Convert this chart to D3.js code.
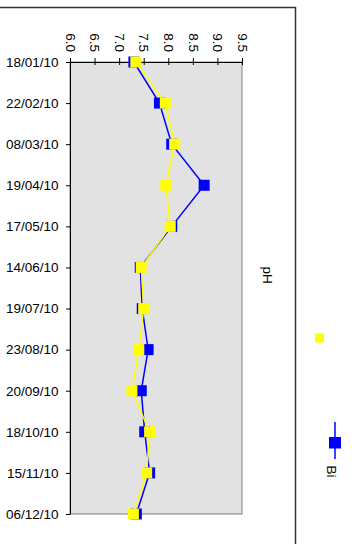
<!DOCTYPE html>
<meta charset="utf-8">
<body style="margin:0;background:#fff">
<script src="https://d3js.org/d3.v7.min.js"></script>
<script>
// data
var dates = ["18/01/10", "22/02/10", "08/03/10", "19/04/10", "17/05/10", "14/06/10",
             "19/07/10", "23/08/10", "20/09/10", "18/10/10", "15/11/10", "06/12/10"];
var bi     = [7.30, 7.82, 8.07, 8.73, 8.07, 7.43, 7.47, 7.59, 7.45, 7.52, 7.62, 7.35];
var second = [7.34, 7.94, 8.13, 7.95, 8.04, 7.45, 7.50, 7.40, 7.26, 7.62, 7.56, 7.29];
var phTicks = [6.0, 6.5, 7.0, 7.5, 8.0, 8.5, 9.0, 9.5];

var W = 352, H = 544;
var plotL = 70, plotR = 242, plotT = 62, plotB = 514;
var font = "Liberation Sans, Arial, sans-serif";

var svg = d3.select("body").append("svg")
    .attr("width", W).attr("height", H)
    .style("font-family", font);

// outer frame (top + right edge visible)
svg.append("path")
    .attr("d", "M0,7.5H295.5V544")
    .attr("fill", "none").attr("stroke", "#333").attr("stroke-width", 1.5);

var x = d3.scaleLinear().domain([6, 9.5]).range([plotL, plotR]);
var y = d3.scalePoint().domain(dates).range([plotT, plotB]);

// plot area
svg.append("rect")
    .attr("x", plotL).attr("y", plotT)
    .attr("width", plotR - plotL).attr("height", plotB - plotT)
    .attr("fill", "#e2e2e2").attr("stroke", "#808080").attr("stroke-width", 1);

// pH axis on top, labels rotated
var xa = svg.append("g").attr("transform", "translate(0," + plotT + ")")
    .call(d3.axisTop(x).tickValues(phTicks).tickFormat(d3.format(".1f")).tickSize(4).tickSizeOuter(0));
xa.selectAll(".tick line").attr("y2", 3).attr("y1", -4);
xa.select(".domain").attr("stroke", "#000");
xa.selectAll("text")
    .attr("transform", "rotate(90)")
    .attr("x", -10).attr("y", 0).attr("dy", "0.35em")
    .style("text-anchor", "end")
    .style("font-size", "13.5px").style("font-family", font).attr("fill", "#000");

// date axis on left
var ya = svg.append("g").attr("transform", "translate(" + plotL + ",0)")
    .call(d3.axisLeft(y).tickSize(4).tickSizeOuter(0));
ya.select(".domain").attr("stroke", "#000");
ya.selectAll("text")
    .attr("x", -11.5)
    .style("font-size", "13.5px").style("font-family", font).attr("fill", "#000");

// series
function drawSeries(vals, color) {
    var line = d3.line().x(function(d) { return x(d); }).y(function(d, i) { return y(dates[i]); });
    svg.append("path").datum(vals)
        .attr("d", line).attr("fill", "none")
        .attr("stroke", color).attr("stroke-width", 1.5);
    svg.selectAll(null).data(vals).enter().append("rect")
        .attr("x", function(d) { return x(d) - 5.5; })
        .attr("y", function(d, i) { return y(dates[i]) - 5.5; })
        .attr("width", 11).attr("height", 11)
        .attr("fill", color);
}
drawSeries(bi, "#0000ff");
drawSeries(second, "#ffff00");

// axis title
svg.append("text")
    .attr("transform", "translate(268,275) rotate(90)")
    .attr("text-anchor", "middle").attr("dy", "0.35em")
    .style("font-size", "13.5px").text("pH");

// legend
svg.append("rect").attr("x", 315).attr("y", 333.5).attr("width", 9).attr("height", 9).attr("fill", "#ffff00");
svg.append("line").attr("x1", 335).attr("x2", 335).attr("y1", 422).attr("y2", 459)
    .attr("stroke", "#0000ff").attr("stroke-width", 1.5);
svg.append("rect").attr("x", 329).attr("y", 437).attr("width", 12).attr("height", 11.5).attr("fill", "#0000ff");
svg.append("text")
    .attr("transform", "translate(332,471.5) rotate(90)")
    .attr("text-anchor", "middle").attr("dy", "0.35em")
    .style("font-size", "13.5px").text("Bi");
</script>
</body>
